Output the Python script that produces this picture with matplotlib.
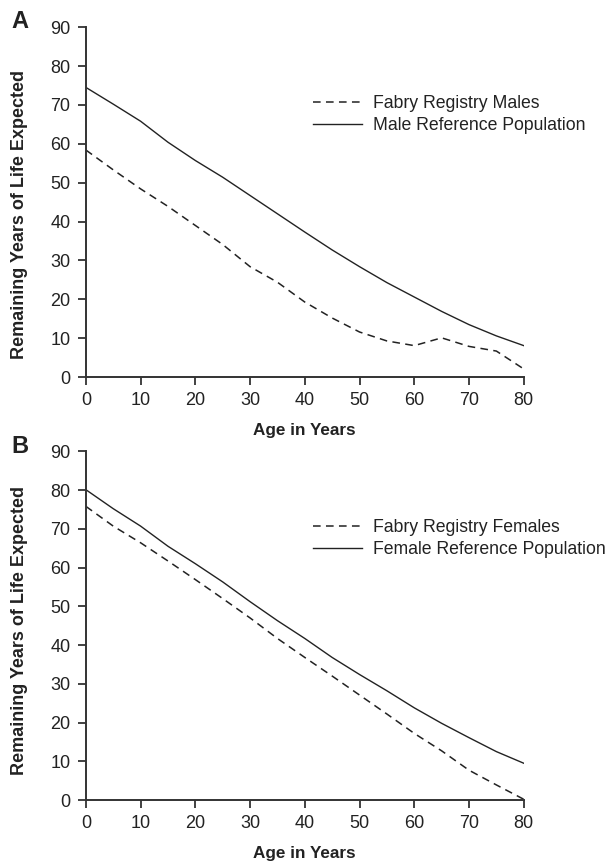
import matplotlib.pyplot as plt

plt.rcParams['font.family'] = ['Liberation Sans', 'DejaVu Sans']

# ---- data
age = [0, 5, 10, 15, 20, 25, 30, 35, 40, 45, 50, 55, 60, 65, 70, 75, 80]

male_ref = [74.5, 70.2, 65.8, 60.4, 55.7, 51.4, 46.7, 42.0, 37.3, 32.7,
            28.4, 24.3, 20.6, 16.9, 13.5, 10.6, 8.1]
fabry_male = [58.4, 53.3, 48.4, 43.9, 39.0, 34.1, 28.4, 24.4, 19.3, 15.2,
              11.6, 9.3, 8.1, 10.1, 7.9, 6.7, 2.1]

female_ref = [80.1, 75.2, 70.7, 65.5, 61.0, 56.3, 51.2, 46.3, 41.7, 36.8,
              32.4, 28.2, 23.8, 19.8, 16.1, 12.5, 9.5]
fabry_female = [75.8, 70.7, 66.4, 61.7, 56.9, 52.0, 47.0, 41.7, 36.8, 32.0,
                27.1, 22.2, 17.2, 12.7, 7.7, 3.9, 0.2]

panels = [
    ('A', fabry_male, male_ref, 'Fabry Registry Males', 'Male Reference Population'),
    ('B', fabry_female, female_ref, 'Fabry Registry Females', 'Female Reference Population'),
]

fig = plt.figure(figsize=(6.09, 8.61), dpi=100)
axes_pos = [[0.141, 0.562, 0.719, 0.4065], [0.141, 0.0708, 0.719, 0.405]]
ylab_y = [0.465, 0.485]
ink = '#222222'

for pos, yly, (letter, fabry, ref, lab_f, lab_r) in zip(axes_pos, ylab_y, panels):
    ax = fig.add_axes(pos)
    ax.plot(age, fabry, color=ink, lw=1.1, linestyle=(0, (5, 3.5)), label=lab_f)
    ax.plot(age, ref, color=ink, lw=1.0, label=lab_r)
    ax.set_xlim(0, 80)
    ax.set_ylim(0, 90)
    ax.set_xticks(range(0, 81, 10))
    ax.set_yticks(range(0, 91, 10))
    for s in ['top', 'right']:
        ax.spines[s].set_visible(False)
    for s in ['left', 'bottom']:
        ax.spines[s].set_color('#333333')
        ax.spines[s].set_linewidth(1.4)
    ax.tick_params(axis='both', direction='out', length=5.5, width=1.3,
                   color='#333333', labelsize=13, labelcolor=ink, pad=5.5)
    ax.set_xlabel('Age in Years', fontsize=12.3, fontweight='bold', color=ink, labelpad=10)
    ax.set_ylabel('Remaining Years of Life Expected', fontsize=13, fontweight='bold',
                  color=ink)
    ax.yaxis.set_label_coords(-0.133, yly)
    leg = ax.legend(loc='upper left', bbox_to_anchor=(0.518, 0.805), frameon=False,
                    fontsize=12.7, handlelength=2.8, handletextpad=0.62,
                    borderpad=0, borderaxespad=0, labelspacing=0.25)
    for t in leg.get_texts():
        t.set_color(ink)
    ax.text(-0.171, 1.015, letter, transform=ax.transAxes, fontsize=17,
            fontweight='bold', color=ink, va='center', ha='left')

fig.savefig('out.png', dpi=100)
